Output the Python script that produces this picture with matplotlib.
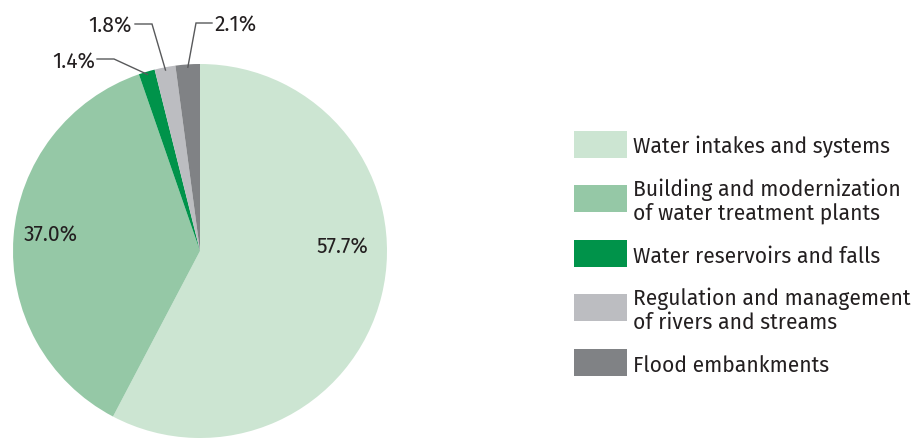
import numpy as np
import matplotlib
matplotlib.use("Agg")
import matplotlib.pyplot as plt
from matplotlib.patches import Rectangle

plt.rcParams['font.family'] = ['Fira Sans', 'Noto Sans', 'DejaVu Sans']

categories = [
    "Water intakes and systems",
    "Building and modernization\nof water treatment plants",
    "Water reservoirs and falls",
    "Regulation and management\nof rivers and streams",
    "Flood embankments",
]
shares = [57.7, 37.0, 1.4, 1.8, 2.1]
colors = ["#cce5d2", "#95c8a6", "#00934a", "#bcbdc1", "#808285"]
text_color = "#231f20"

W, H = 913, 439
fig = plt.figure(figsize=(W / 100, H / 100), dpi=100)

# pie axes: centre at (200, 252) px from top-left, radius 187 px
cx, cy, R = 200, 252, 187
ax = fig.add_axes([(cx - R) / W, (H - cy - R) / H, 2 * R / W, 2 * R / H])
wedges, _ = ax.pie(shares, colors=colors, startangle=90, counterclock=False,
                   radius=1.0, wedgeprops=dict(linewidth=0))
ax.set_xlim(-1, 1)
ax.set_ylim(-1, 1)
ax.set_aspect('equal')
ax.axis('off')


def px(x, y):
    """pixel (from top-left) -> pie data coordinates"""
    return (x - cx) / R, (cy - y) / R


fs = 15.2
# labels inside the two large wedges
ax.text(*px(342, 247), f"{shares[0]:.1f}%", ha='center', va='center',
        fontsize=fs, color=text_color)
ax.text(*px(51, 235), f"{shares[1]:.1f}%", ha='center', va='center',
        fontsize=fs, color=text_color)

# leader-line labels for the small wedges
small = [
    # index, knee point, tail point, text alignment, text anchor
    (2, (114, 60), (97, 60), 'right', (95, 62)),
    (3, (152, 25), (135, 25), 'right', (132, 26)),
    (4, (196, 24), (212, 24), 'left', (214, 25)),
]
for idx, knee, tail, ha, tpos in small:
    w = wedges[idx]
    mid = np.deg2rad((w.theta1 + w.theta2) / 2)
    ex, ey = 0.985 * np.cos(mid), 0.985 * np.sin(mid)
    kx, ky = px(*knee)
    tx, ty = px(*tail)
    ax.plot([ex, kx, tx], [ey, ky, ty], color="#58595b", lw=1.0,
            clip_on=False, solid_joinstyle='miter')
    ax.text(*px(*tpos), f"{shares[idx]:.1f}%", ha=ha, va='center',
            fontsize=fs, color=text_color, clip_on=False)

# legend drawn as patches + text in figure pixels
row_y = [145, 199.5, 254.5, 308.5, 363.5]
for label, col, yc in zip(categories, colors, row_y):
    fig.patches.append(Rectangle((574 / W, (H - yc - 13.5) / H), 53 / W, 27 / H,
                                 transform=fig.transFigure, facecolor=col,
                                 edgecolor='none'))
    fig.text(633 / W, (H - yc - 2) / H, label, ha='left', va='center',
             fontsize=fs, color=text_color, linespacing=1.1)

fig.savefig("out.png", dpi=100)
